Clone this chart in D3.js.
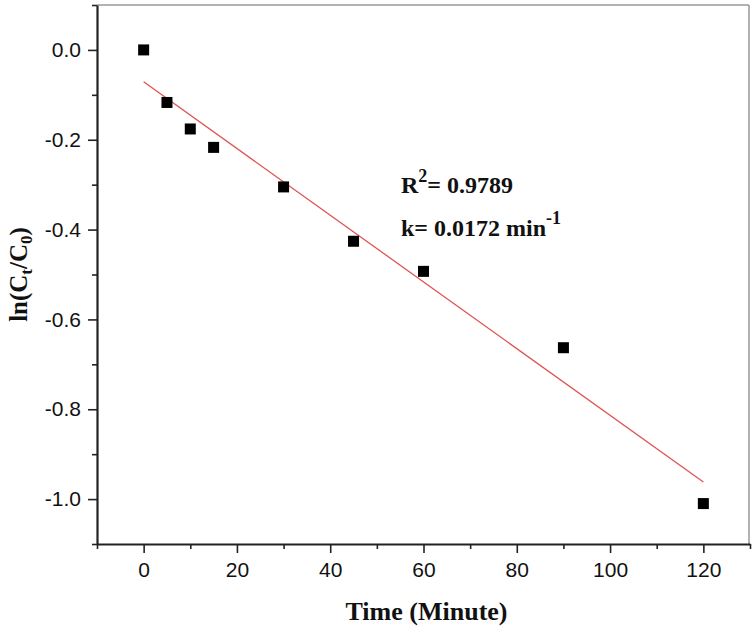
<!DOCTYPE html>
<html><head><meta charset="utf-8">
<script src="https://cdnjs.cloudflare.com/ajax/libs/d3/7.8.5/d3.min.js"></script>
<style>body{margin:0;background:#fff}svg{display:block}</style>
</head><body>
<svg id="c" width="754" height="631"></svg>
<script>
const timeMin = [0, 5, 10, 15, 30, 45, 60, 90, 120];
const lnRatio = [0, -0.117, -0.176, -0.217, -0.305, -0.426, -0.493, -0.663, -1.01];
const fitX = [0, 120];
const fitY = [-0.071, -0.962];
const xTicks = [0, 20, 40, 60, 80, 100, 120];
const xMinor = [-10, 10, 30, 50, 70, 90, 110, 130];
const yTicks = [0.0, -0.2, -0.4, -0.6, -0.8, -1.0];
const yMinor = [0.1, -0.1, -0.3, -0.5, -0.7, -0.9, -1.1];

const svg = d3.select("#c");
const L = 97, R = 750, T = 5, B = 544;
const x = d3.scaleLinear().domain([-10, 130]).range([L, R]);
const y = d3.scaleLinear().domain([-1.1, 0.1]).range([B, T]);

svg.append("line").attr("x1", L).attr("x2", R - 1).attr("y1", T).attr("y2", T).attr("stroke", "#999").attr("stroke-width", 1.5);
svg.append("line").attr("x1", R - 1).attr("x2", R - 1).attr("y1", T).attr("y2", B).attr("stroke", "#999").attr("stroke-width", 1.5);

const gxm = svg.append("g").attr("transform", `translate(0,${B})`)
  .call(d3.axisBottom(x).tickValues(xMinor).tickSize(5).tickFormat(""));
const gym = svg.append("g").attr("transform", `translate(${L},0)`)
  .call(d3.axisLeft(y).tickValues(yMinor).tickSize(5).tickFormat(""));
[gxm, gym].forEach(g => { g.select(".domain").remove(); g.selectAll("line").attr("stroke", "#222").attr("stroke-width", 1.6); });

const gx = svg.append("g").attr("transform", `translate(0,${B})`)
  .call(d3.axisBottom(x).tickValues(xTicks).tickSize(9).tickSizeOuter(0).tickPadding(9).tickFormat(d3.format("d")));
const gy = svg.append("g").attr("transform", `translate(${L},0)`)
  .call(d3.axisLeft(y).tickValues(yTicks).tickSize(9).tickSizeOuter(0).tickPadding(7).tickFormat(d3.format(".1f")));
[gx, gy].forEach(g => {
  g.select(".domain").attr("stroke", "#222").attr("stroke-width", 2.2);
  g.selectAll(".tick line").attr("stroke", "#222").attr("stroke-width", 1.6);
  g.selectAll(".tick text").attr("fill", "#111").style("font-family", "Liberation Sans, Arial, sans-serif").style("font-size", "21px");
});
gy.selectAll(".tick text").text(d => d3.format(".1f")(d).replace("−", "-"));

svg.append("line")
  .attr("x1", x(fitX[0])).attr("y1", y(fitY[0]))
  .attr("x2", x(fitX[1])).attr("y2", y(fitY[1]))
  .attr("stroke", "#e05555").attr("stroke-width", 1.3);

const s = 11;
svg.append("g").selectAll("rect").data(timeMin).join("rect")
  .attr("x", (d) => x(d) - s / 2)
  .attr("y", (d, i) => y(lnRatio[i]) - s / 2)
  .attr("width", s).attr("height", s).attr("fill", "#000");

const serif = "Liberation Serif, Times New Roman, serif";
const a1 = svg.append("text").attr("x", 401).attr("y", 193).style("font-family", serif).style("font-weight", "bold").style("font-size", "24px").attr("fill", "#111");
a1.append("tspan").text("R");
a1.append("tspan").attr("dy", -11).style("font-size", "18px").text("2");
a1.append("tspan").attr("dy", 11).text("= 0.9789");
const a2 = svg.append("text").attr("x", 401).attr("y", 236).style("font-family", serif).style("font-weight", "bold").style("font-size", "24px").attr("fill", "#111");
a2.append("tspan").text("k= 0.0172 min");
a2.append("tspan").attr("dy", -12).style("font-size", "18px").text("-1");

svg.append("text").attr("x", (L + R) / 2 + 3).attr("y", 620).attr("text-anchor", "middle")
  .style("font-family", serif).style("font-weight", "bold").style("font-size", "26px").attr("fill", "#111")
  .text("Time (Minute)");
const yl = svg.append("text").attr("transform", `translate(27,${(T + B) / 2}) rotate(-90)`).attr("text-anchor", "middle")
  .style("font-family", serif).style("font-weight", "bold").style("font-size", "25px").attr("fill", "#111");
yl.append("tspan").text("ln(C");
yl.append("tspan").attr("dy", 5).style("font-size", "17px").text("t");
yl.append("tspan").attr("dy", -5).text("/C");
yl.append("tspan").attr("dy", 5).style("font-size", "17px").text("0");
yl.append("tspan").attr("dy", -5).text(")");
</script>
</body></html>
